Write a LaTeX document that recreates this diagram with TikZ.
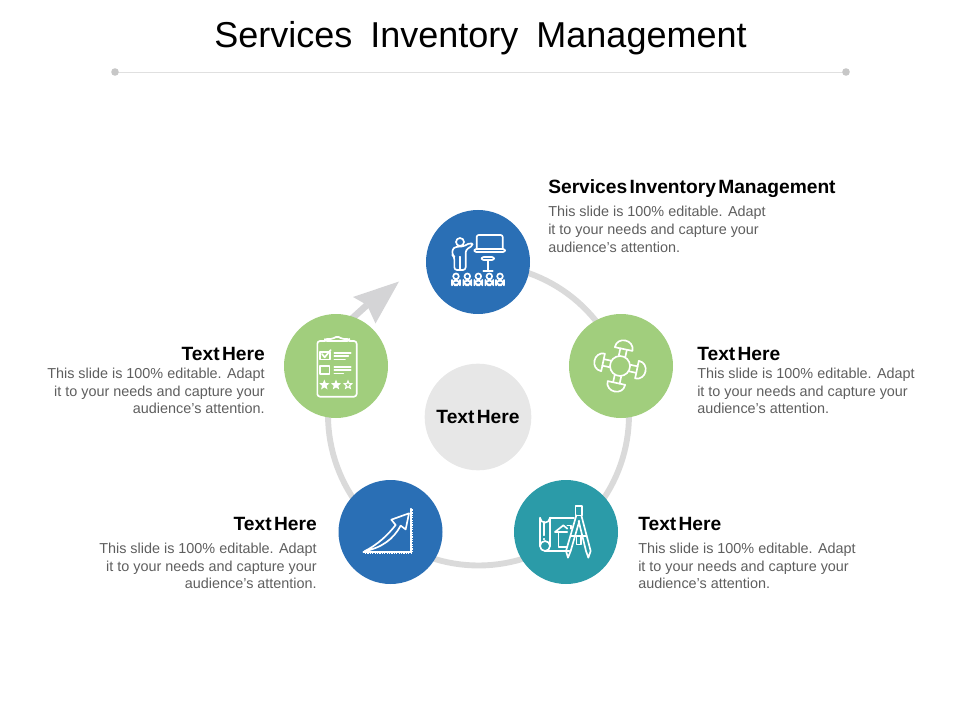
\documentclass[tikz,border=0pt]{standalone}
\usepackage{fontspec}
\setmainfont{Liberation Sans}
\usetikzlibrary{backgrounds,shapes.geometric}
\definecolor{bluec}{HTML}{2A6FB5}
\definecolor{greenc}{HTML}{A1CE7D}
\definecolor{tealc}{HTML}{2B9BA8}
\definecolor{ringc}{HTML}{DADADA}
\definecolor{arrowc}{HTML}{D4D4D6}
\definecolor{centerc}{HTML}{E7E7E7}
\definecolor{bodyc}{HTML}{5E5E5E}
\tikzset{
 disc/.style={circle,draw=none,inner sep=0pt,minimum size=78pt},
 headr/.style={inner sep=0pt,font=\fontsize{14.4}{16}\selectfont\bfseries,text=black},
 bodyl/.style={inner sep=0pt,align=left,anchor=north west,font=\fontsize{10.8}{13.4}\selectfont,text=bodyc},
 bodyr/.style={inner sep=0pt,align=right,anchor=north east,font=\fontsize{10.8}{13.4}\selectfont,text=bodyc},
 icon/.style={draw=white,line width=1.25pt,line cap=round,line join=round},
 star5/.style={star,star points=5,star point ratio=2.3,inner sep=0pt,minimum size=6pt,line width=0.8pt,draw=white},
}
\newcommand{\bodytext}{This slide is 100\% editable. Adapt\\it to your needs and capture your\\audience's attention.}
\begin{document}
\begin{tikzpicture}[x=0.75pt,y=-0.75pt]
\useasboundingbox (0,0) rectangle (960,720);
% title
\node[inner sep=0pt,font=\fontsize{27}{32}\selectfont,text=black] (title) at (480.5,38.5) {\spaceskip=0.5em Services Inventory Management};
\coordinate (ruleL) at (115,72);
\coordinate (ruleR) at (846,72);
\draw[black!12,line width=0.6pt] (ruleL) -- (ruleR);
\fill[black!22] (ruleL) circle (3.8);
\fill[black!22] (ruleR) circle (3.8);
% discs
\node[disc,fill=bluec] (n1) at (478,262) {};
\node[disc,fill=greenc] (n2) at (621,366) {};
\node[disc,fill=tealc] (n3) at (566,532) {};
\node[disc,fill=bluec] (n4) at (390.5,532) {};
\node[disc,fill=greenc] (n5) at (336,366) {};
\node[circle,fill=centerc,inner sep=0pt,minimum size=80pt,font=\fontsize{14.4}{16}\selectfont\bfseries] (nc) at (478,417) {\raisebox{-0.8pt}{\spaceskip=0.12em Text Here}};
% ring and arrow
\coordinate (notch) at (367,305);
\coordinate (tip) at (399,281.5);
\coordinate (barbA) at (353,297);
\coordinate (barbB) at (375.5,323.5);
\begin{scope}[on background layer]
\draw[ringc,line width=4.4pt] plot[domain=-90:199,samples=120] ({478.5+150.5*cos(\x)},{415+150.5*sin(\x)});
\draw[arrowc,line width=5pt,shorten <=-4pt] (n5.70) -- (notch);
\fill[arrowc] (tip) -- (barbA) -- (notch) -- (barbB) -- cycle;
\end{scope}
% labels
\node[headr,anchor=west] (h1) at (548,188.5) {\spaceskip=0.12em Services Inventory Management};
\node[bodyl] (b1) at (548,206) {\bodytext};
\node[headr,anchor=west] (h2) at (697,354) {\spaceskip=0.12em Text Here};
\node[bodyl] (b2) at (697,367.5) {\bodytext};
\node[headr,anchor=west] (h3) at (638,524) {\spaceskip=0.12em Text Here};
\node[bodyl] (b3) at (638,542.5) {\bodytext};
\node[headr,anchor=east] (h4) at (317,524) {\spaceskip=0.12em Text Here};
\node[bodyr] (b4) at (317,542.5) {\bodytext};
\node[headr,anchor=east] (h5) at (265,354) {\spaceskip=0.12em Text Here};
\node[bodyr] (b5) at (265,367.5) {\bodytext};
% icon 1: presenter
\begin{scope}[shift={(420,205)},x=0.25pt,y=-0.25pt]
\draw[icon,rounded corners=1.5pt] (170,132) -- (170,90) -- (248,90) -- (248,132);
\draw[icon,rounded corners=1.5pt] (163,132) rectangle (255,141);
\draw[icon,rounded corners=1.5pt] (185,156) rectangle (222,165);
\draw[icon] (203,165) -- (203,195);
\draw[icon] (190,198) -- (218,198);
\draw[icon] (120,111) circle (12);
\draw[icon,rounded corners=2pt] (103,195) -- (103,155) -- (97,150) -- (97,132) -- (108,125) -- (128,125) -- (152,113) -- (160,120) -- (137,135) -- (137,195) -- cycle;
\draw[icon] (120,155) -- (120,195);
\foreach \x in {108,142,175,208,240}{
 \draw[icon] (\x,214) circle (8.5);
 \draw[icon,rounded corners=4pt] (\x-12,241) -- (\x-12,225) -- (\x+12,225) -- (\x+12,241) -- cycle;
}
\end{scope}
% icon 2
\begin{scope}[shift={(565,310)},x=0.25pt,y=-0.25pt]
\draw[icon] (165,168) circle (30);
\foreach \a in {-12,-102,-192,-282}{
 \begin{scope}[shift={(165,168)},rotate=\a]
  \draw[icon] (30,-10) -- (52,-10) (30,10) -- (52,10);
  \draw[icon] (52,-27) .. controls (87,-27) and (87,27) .. (52,27) -- cycle;
 \end{scope}
}
\end{scope}
% icon 3
\begin{scope}[shift={(510,476)},x=0.25pt,y=-0.25pt]
\draw[icon] (90,210) -- (90,125) arc[start angle=180,end angle=0,radius=15] -- (120,210);
\draw[icon] (105,210) circle (15);
\draw[icon] (120,125) -- (192,125);
\draw[icon] (105,225) -- (178,225);
\draw[icon] (101,137) -- (101,178) (101,188) -- (101,190);
\draw[icon] (135,168) -- (160,148) -- (172,158) (135,168) -- (172,168);
\draw[icon] (145,168) -- (145,213) -- (172,213);
\draw[icon] (172,148) -- (183,148) -- (183,158);
\draw[icon] (196,90) rectangle (216,118);
\draw[icon] (199,118) -- (168,225) -- (174,245) -- (182,225) -- (208,135);
\draw[icon] (206,135) -- (228,225) -- (235,245) -- (242,225) -- (214,118);
\draw[icon] (199,180) rectangle (213,205);
\draw[icon] (182,180) -- (199,180) (213,180) -- (230,180);
\end{scope}
% icon 4
\begin{scope}[shift={(335,476)},x=0.25pt,y=-0.25pt]
\draw[white,line width=1.6pt,dash pattern=on 0.9pt off 0.9pt] (90,230) -- (232,230) -- (232,98);
\draw[icon] (85,228) -- (228,228) -- (228,98);
\draw[icon] (88,226) .. controls (130,205) and (160,175) .. (182,147) -- (169,131) -- (222,112) -- (212,160) -- (197,149) .. controls (175,190) and (140,215) .. cycle;
\end{scope}
% icon 5
\begin{scope}[shift={(280,270)},x=0.25pt,y=-0.25pt]
\draw[icon,rounded corners=2pt] (135,213) -- (112,213) -- (112,380) -- (230,380) -- (230,213) -- (208,213);
\draw[icon,rounded corners=1.5pt] (135,213) -- (135,207) -- (158,207) -- (172,198) -- (186,207) -- (208,207) -- (208,213) -- cycle;
\draw[icon] (120,245) rectangle (150,268);
\draw[icon] (126,252) -- (134,262) -- (152,240);
\draw[icon] (163,248) -- (212,248) (163,258) -- (205,258) (163,268) -- (195,268);
\draw[icon] (120,288) rectangle (148,312);
\draw[icon] (163,290) -- (212,290) (163,300) -- (212,300) (163,310) -- (190,310);
\node[star5,fill=white] (s1) at (133,345) {};
\node[star5,fill=white] (s2) at (168,345) {};
\node[star5] (s3) at (204,345) {};
\end{scope}
\end{tikzpicture}
\end{document}
